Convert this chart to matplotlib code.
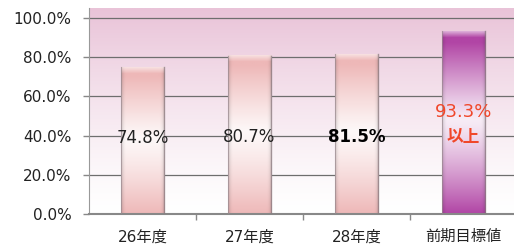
import numpy as np
import matplotlib
matplotlib.use("Agg")
import matplotlib.pyplot as plt
from matplotlib.colors import to_rgb

plt.rcParams['font.family'] = ['DejaVu Sans', 'Noto Sans CJK JP']

categories = ["26年度", "27年度", "28年度", "前期目標値"]
values = [74.8, 80.7, 81.5, 93.3]
labels = ["74.8%", "80.7%", "81.5%", "93.3%"]
label_colors = ["#222222", "#222222", "#000000", "#f0472a"]
label_weights = ["normal", "normal", "bold", "normal"]
extra_label = "以上"
bar_colors = ["#eeb8b8", "#eeb8b8", "#eeb8b8", "#b145a5"]
yticks = [0, 20, 40, 60, 80, 100]
ytick_labels = ["0.0%", "20.0%", "40.0%", "60.0%", "80.0%", "100.0%"]

W, H = 514, 245
fig = plt.figure(figsize=(W / 100, H / 100), dpi=100)
ax = fig.add_axes([89 / W, (H - 214) / H, (W - 89) / W, 205.8 / H])
ax.set_xlim(-0.5, -0.5 + 425 / 107)
ax.set_ylim(0, 105)

# background gradient
ny = 200
t = np.linspace(0, 1, ny)[:, None]
top = np.array(to_rgb("#e9c3d8"))
white = np.ones(3)
w = t ** 1.3
bg = white * (1 - w[..., None]) + top * w[..., None]
bg = np.repeat(bg, 2, axis=1)
ax.imshow(bg, extent=(-0.5, 4, 0, 105), origin="lower", aspect="auto", zorder=0)

ax.set_yticks(yticks)
ax.set_yticklabels(ytick_labels, fontsize=11, color="#222222")
ax.yaxis.grid(True, color="#6e6e6e", linewidth=0.9, zorder=1)
ax.set_axisbelow(True)

ax.set_xticks(range(len(categories)))
ax.set_xticklabels(categories, fontsize=11, color="#222222")
ax.tick_params(axis="x", length=0, pad=11)
ax.set_xticks([0.5, 1.5, 2.5], minor=True)
ax.tick_params(axis="x", which="minor", length=4, color="#888888", width=1)
ax.tick_params(axis="y", length=4, color="#888888", width=1, pad=8.5)

for s in ["top", "right"]:
    ax.spines[s].set_visible(False)
ax.spines["left"].set_color("#999999")
ax.spines["bottom"].set_color("#888888")
ax.spines["bottom"].set_linewidth(1.5)

bars = ax.bar(range(len(values)), values, width=0.41, color="none", edgecolor="none", zorder=2)


def bar_image(color, height_px):
    c = np.array(to_rgb(color))
    n, m = int(height_px), 60
    tv = np.linspace(0, 1, n)[:, None]
    wv = np.where(tv < 0.52, (1 - tv / 0.52) ** 1.3, ((tv - 0.52) / 0.42) ** 1.1)
    wv = np.clip(wv, 0, 1)
    wv = 0.1 + 0.9 * wv
    xs = np.linspace(0, 1, m)[None, :]
    edge = np.clip(1 - np.minimum(xs, 1 - xs) / 0.12, 0, 1) ** 2
    img = white * (1 - wv[..., None]) + c * wv[..., None]
    img = img * (1 - 0.16 * edge[..., None])
    # top bevel highlight (about 5 px)
    rows = np.arange(n)[:, None]
    d = (n - 1 - rows)
    hl = np.clip(1 - d / 6.0, 0, 1) * 0.55
    img = img * (1 - hl[..., None]) + hl[..., None]
    return np.clip(img, 0, 1)


px_per_unit = 196 / 100
for b, col in zip(bars, bar_colors):
    x0, y0 = b.get_x(), b.get_y()
    bw, bh = b.get_width(), b.get_height()
    ax.imshow(bar_image(col, bh * px_per_unit), extent=(x0, x0 + bw, y0, y0 + bh),
              origin="lower", aspect="auto", zorder=2, interpolation="bilinear")
    ax.plot([x0, x0], [0, bh], color="#9a8a90", lw=0.8, zorder=3, alpha=0.7)
    ax.plot([x0 + bw, x0 + bw], [0, bh], color="#8a7a80", lw=1.0, zorder=3, alpha=0.7)

label_y = [39, 39.5, 39.5, 52]
label_sizes = [12, 12, 12, 13]
for i, (lab, c, fw) in enumerate(zip(labels, label_colors, label_weights)):
    ax.text(i, label_y[i], lab, ha="center", va="center", fontsize=label_sizes[i], color=c,
            fontweight=fw, zorder=4)
ax.text(3, 39.5, extra_label, ha="center", va="center", fontsize=12, color=label_colors[3],
        family=['Noto Sans CJK JP'], fontweight="bold", zorder=4)

ax.set_xlim(-0.5, -0.5 + 425 / 107)
ax.set_ylim(0, 105)
fig.savefig("out.png", dpi=100)
